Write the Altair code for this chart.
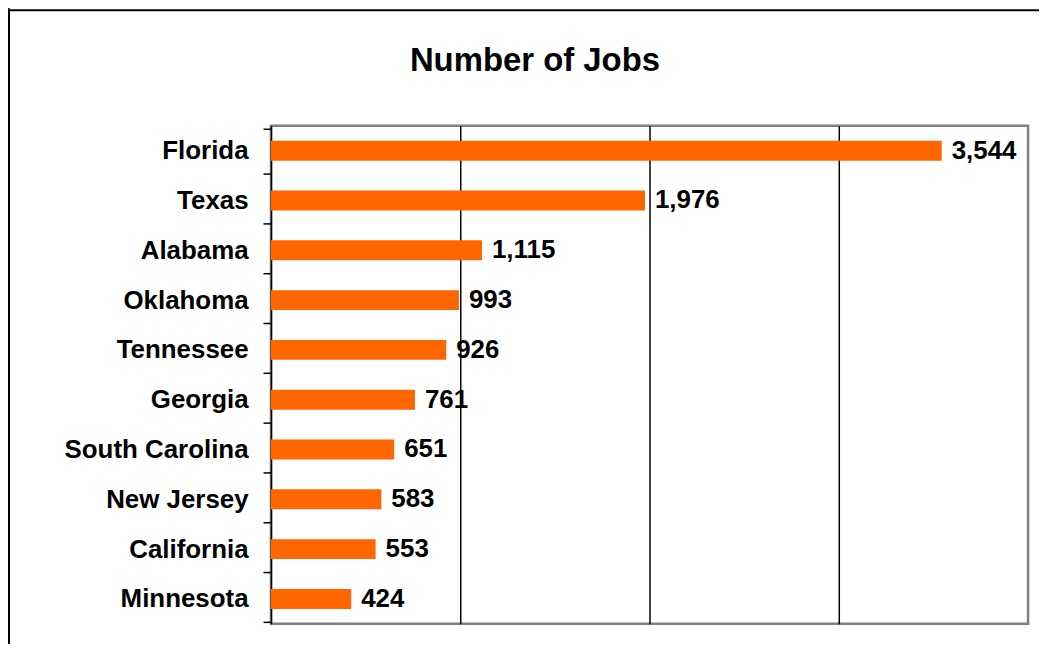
import altair as alt
import pandas as pd

states = ["Florida", "Texas", "Alabama", "Oklahoma", "Tennessee", "Georgia",
          "South Carolina", "New Jersey", "California", "Minnesota"]
jobs = [3544, 1976, 1115, 993, 926, 761, 651, 583, 553, 424]
title_text = "Number of Jobs"

df = pd.DataFrame({"state": states, "jobs": jobs})
FONT = "Liberation Sans, Arial, Helvetica, sans-serif"

x_enc = alt.X("jobs:Q", scale=alt.Scale(domain=[0, 4000], nice=False),
              axis=alt.Axis(title=None, labels=False, ticks=False, domain=False,
                            grid=True, gridColor="black", gridWidth=1.5,
                            values=[1000, 2000, 3000]))
y_enc = alt.Y("state:N", sort=states,
              axis=alt.Axis(title=None, tickBand="extent", tickColor="black",
                            tickSize=8, tickWidth=1.5, domainColor="black",
                            domainWidth=1.5, labelFont=FONT, labelFontSize=26,
                            labelFontWeight="bold", labelColor="black",
                            labelPadding=15, labelLimit=400))

base = alt.Chart(df)
bars = base.mark_bar(color="#FF6600", size=20).encode(x=x_enc, y=y_enc)
labels = base.mark_text(align="left", baseline="middle", dx=10, font=FONT,
                        fontSize=26, fontWeight="bold", color="black").encode(
    x="jobs:Q", y=alt.Y("state:N", sort=states),
    text=alt.Text("jobs:Q", format=",d"))

title = alt.Chart(pd.DataFrame({"t": [title_text]})).mark_text(
    align="center", baseline="alphabetic", font=FONT, fontSize=33,
    fontWeight="bold", color="black").encode(
    x=alt.value(265), y=alt.value(-55), text="t:N")

left_border = alt.Chart(pd.DataFrame({"a": [0]})).mark_rule(
    color="black", strokeWidth=2).encode(
    x=alt.value(-263), y=alt.value(-118), y2=alt.value(700))
top_border = alt.Chart(pd.DataFrame({"a": [0]})).mark_rule(
    color="black", strokeWidth=2).encode(
    x=alt.value(-264), x2=alt.value(900), y=alt.value(-116))

chart = alt.layer(bars, labels, title, left_border, top_border).properties(
    width=760, height=500,
    background="white",
    autosize=alt.AutoSizeParams(type="none"),
    padding={"left": 264, "top": 117, "right": 11, "bottom": 19},
).configure_view(stroke="#808080", strokeWidth=2.5)

chart.save("out.html", embed_options={"renderer": "svg", "actions": False})
